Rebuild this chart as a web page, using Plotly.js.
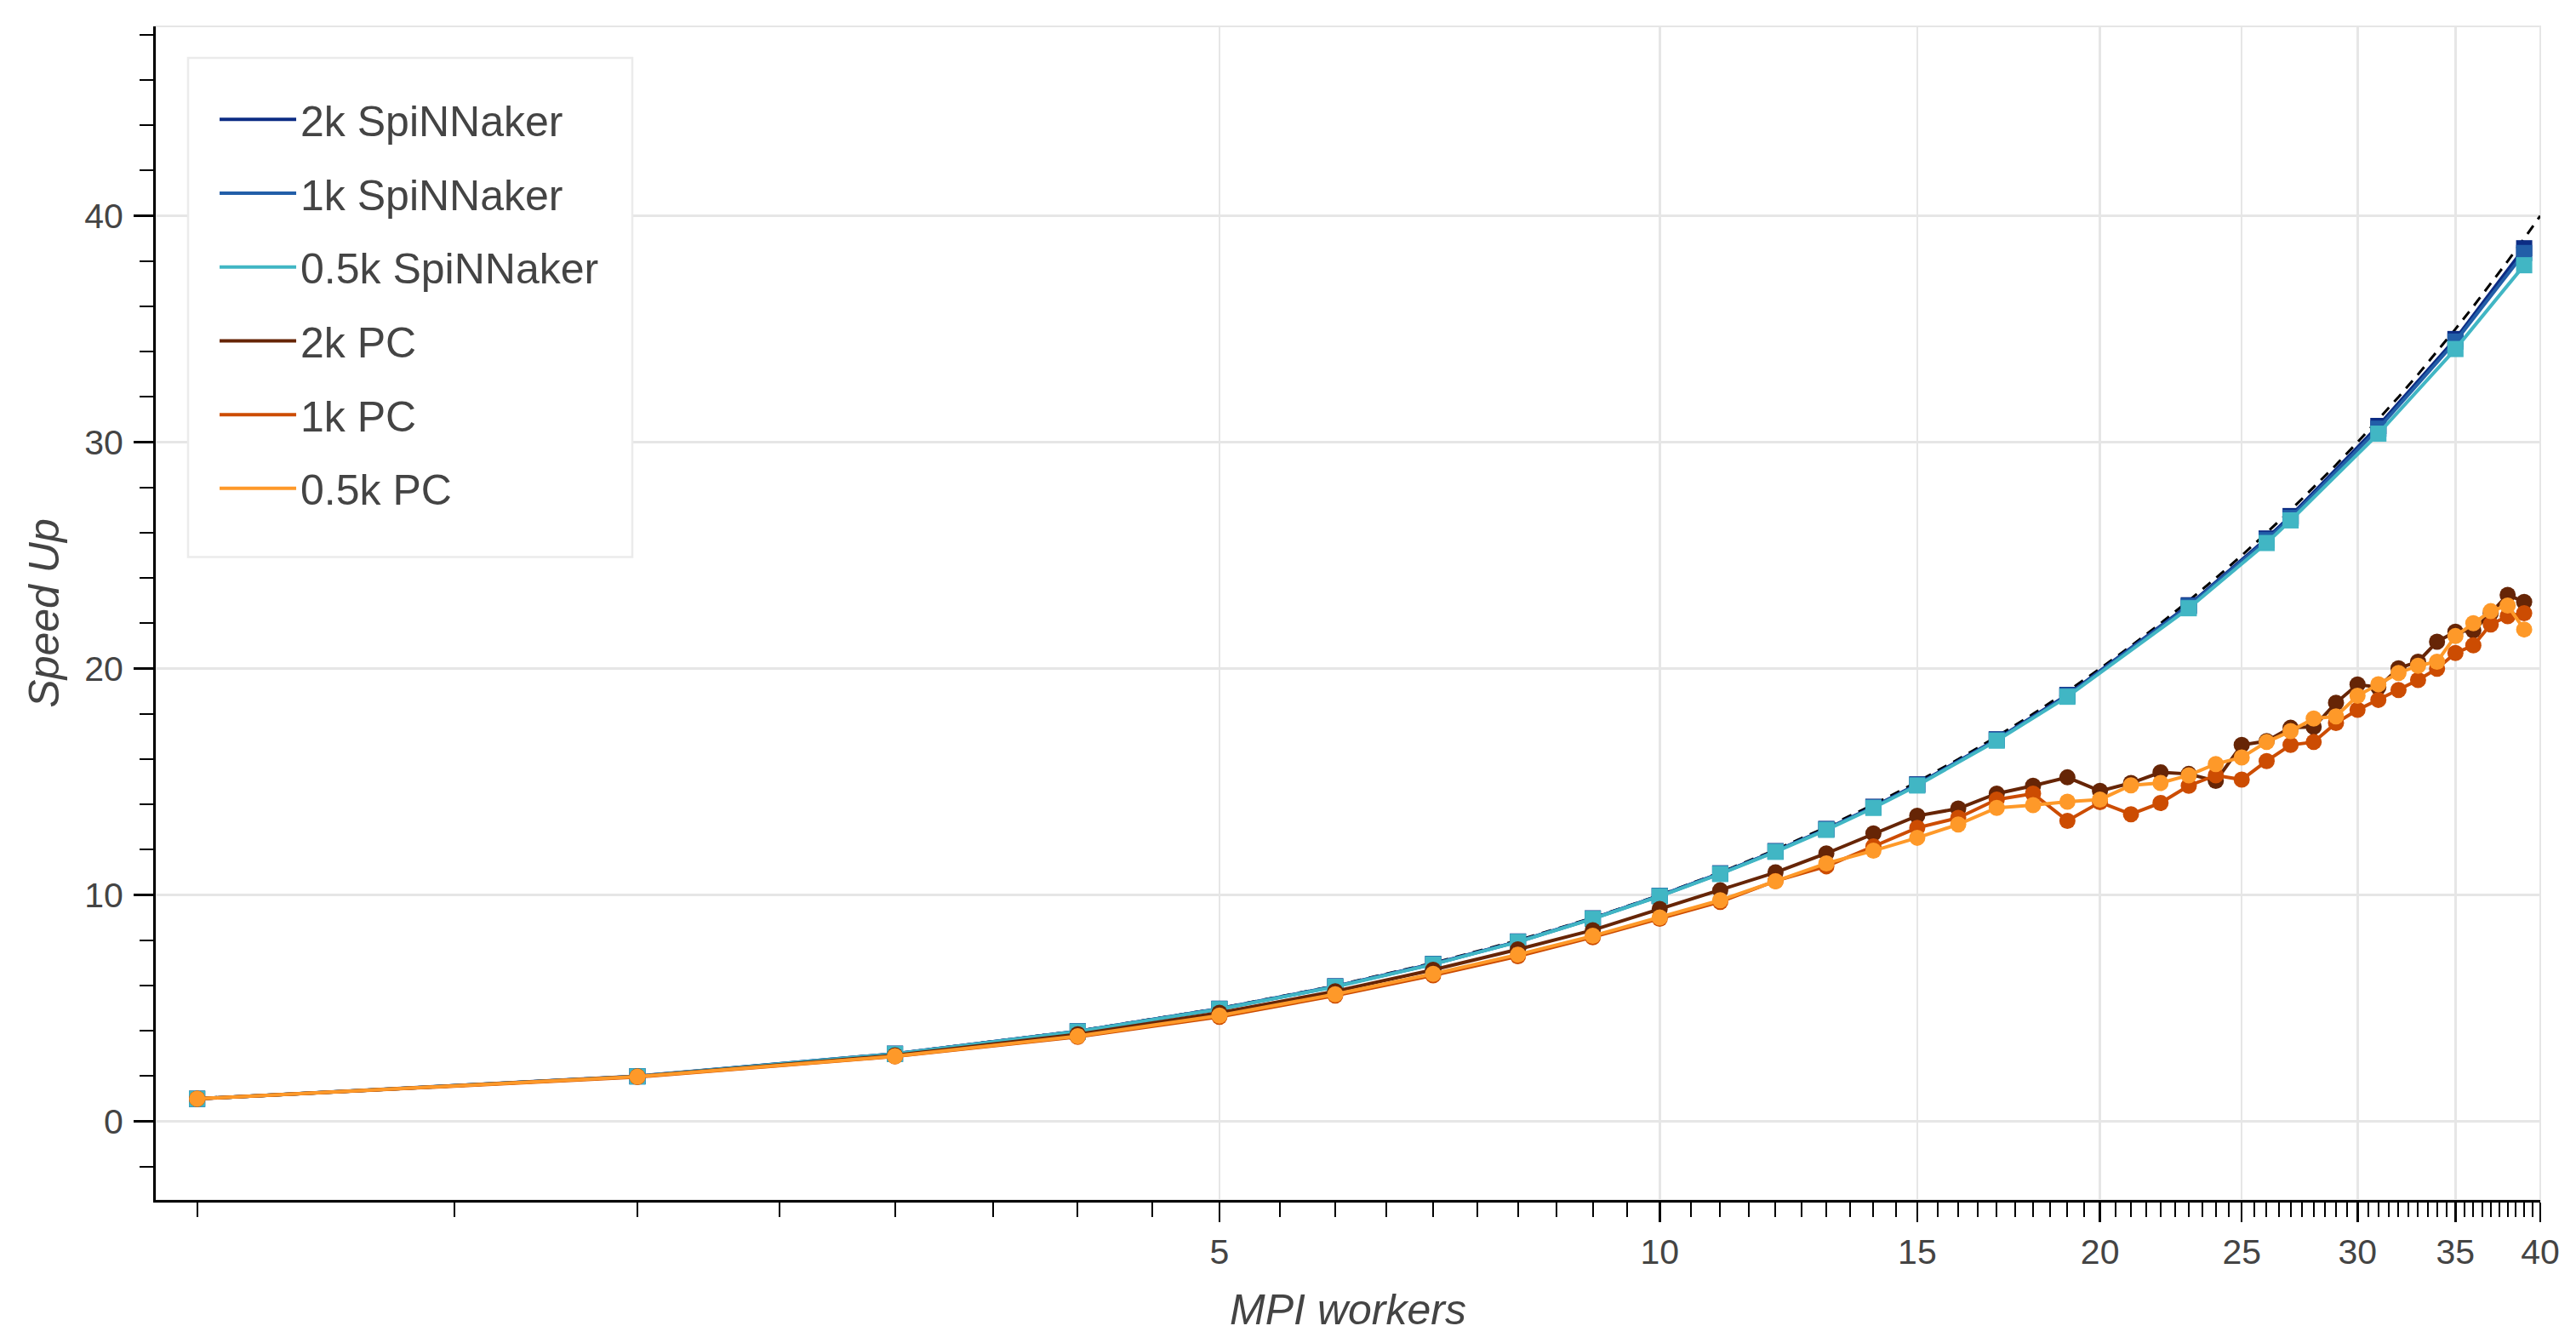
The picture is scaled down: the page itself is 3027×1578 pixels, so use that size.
<!DOCTYPE html>
<html>
<head>
<meta charset="utf-8">
<script src="https://cdn.plot.ly/plotly-3.0.1.min.js"></script>
<style>
html, body { margin: 0; padding: 0; background: #ffffff; }
#chart { width: 3027px; height: 1578px; }
</style>
</head>
<body>
<div id="chart"></div>
<script>
// ---------------- data ----------------
const seriesNames = ['2k SpiNNaker', '1k SpiNNaker', '0.5k SpiNNaker', '2k PC', '1k PC', '0.5k PC'];

const spinWorkers = [1, 2, 3, 4, 5, 6, 7, 8, 9, 10, 11, 12, 13, 14, 15, 17, 19, 23, 26, 27, 31, 35, 39];
const spin2k  = [1.0, 2.0, 2.99, 3.98, 4.98, 5.97, 6.96, 7.95, 8.97, 9.97, 10.96, 11.94, 12.92, 13.90, 14.89, 16.88, 18.84, 22.80, 25.75, 26.74, 30.72, 34.56, 38.57];
const spin1k  = [1.0, 1.99, 2.99, 3.98, 4.97, 5.96, 6.95, 7.94, 8.96, 9.96, 10.95, 11.93, 12.91, 13.88, 14.87, 16.86, 18.81, 22.76, 25.68, 26.66, 30.60, 34.45, 38.36];
const spin05k = [1.0, 1.99, 2.98, 3.97, 4.96, 5.95, 6.94, 7.93, 8.95, 9.95, 10.93, 11.91, 12.88, 13.85, 14.84, 16.82, 18.76, 22.67, 25.55, 26.55, 30.38, 34.12, 37.82];

const pcWorkers = [1, 2, 3, 4, 5, 6, 7, 8, 9, 10, 11, 12, 13, 14, 15, 16, 17, 18, 19, 20,
                   21, 22, 23, 24, 25, 26, 27, 28, 29, 30, 31, 32, 33, 34, 35, 36, 37, 38, 39];
const pc2k  = [1.0, 1.99, 2.92, 3.85, 4.80, 5.75, 6.70, 7.60, 8.45, 9.39, 10.21, 11.00, 11.84, 12.72, 13.50, 13.82, 14.48, 14.83, 15.20, 14.60,
               14.95, 15.42, 15.35, 15.04, 16.63, 16.80, 17.39, 17.43, 18.49, 19.30, 19.18, 20.02, 20.31, 21.19, 21.63, 21.69, 22.45, 23.26, 22.95];
const pc1k  = [1.0, 1.96, 2.87, 3.74, 4.62, 5.56, 6.45, 7.30, 8.14, 8.95, 9.70, 10.62, 11.27, 12.15, 12.97, 13.41, 14.22, 14.48, 13.28, 14.10,
               13.57, 14.07, 14.83, 15.29, 15.10, 15.92, 16.63, 16.76, 17.60, 18.18, 18.62, 19.06, 19.50, 20.00, 20.69, 21.03, 21.95, 22.32, 22.45];
const pc05k = [1.0, 1.98, 2.88, 3.77, 4.68, 5.62, 6.52, 7.37, 8.20, 9.01, 9.77, 10.61, 11.40, 11.96, 12.53, 13.12, 13.85, 13.97, 14.12, 14.22,
               14.85, 14.95, 15.29, 15.79, 16.08, 16.76, 17.24, 17.80, 17.89, 18.80, 19.31, 19.81, 20.13, 20.31, 21.44, 22.01, 22.54, 22.79, 21.73];

// ideal (linear) speed-up reference
const idealWorkers = [1, 2, 3, 4, 5, 6, 7, 8, 9, 10, 11, 12, 13, 14, 15, 16, 17, 18, 19, 20,
                      21, 22, 23, 24, 25, 26, 27, 28, 29, 30, 31, 32, 33, 34, 35, 36, 37, 38, 39, 40];
const idealSpeedup = [1, 2, 3, 4, 5, 6, 7, 8, 9, 10, 11, 12, 13, 14, 15, 16, 17, 18, 19, 20,
                      21, 22, 23, 24, 25, 26, 27, 28, 29, 30, 31, 32, 33, 34, 35, 36, 37, 38, 39, 40];

const xTickVals = [5, 10, 15, 20, 25, 30, 35, 40];
const xTickText = ['5', '10', '15', '20', '25', '30', '35', '40'];
const yTickVals = [0, 10, 20, 30, 40];
const yTickText = ['0', '10', '20', '30', '40'];

// ---------------- styling ----------------
const colors = ['#0c2c84', '#225ea8', '#41b6c4', '#662506', '#cc4c02', '#fe9929'];
const FONT = '"Liberation Sans", Helvetica, Arial, sans-serif';
const TXT = '#444444';
const GRID = '#e6e6e6';

const minorX = [];
for (let v = 1; v <= 40.001; v += 0.5) minorX.push(v);

function series(x, y, i, symbol, size) {
  return {
    type: 'scatter', mode: 'lines+markers', x: x, y: y, name: seriesNames[i],
    showlegend: false, hoverinfo: 'skip',
    line: { color: colors[i], width: 4 },
    marker: { color: colors[i], symbol: symbol, size: size, line: { width: 0 } }
  };
}

const traces = [
  { type: 'scatter', mode: 'lines', x: idealWorkers, y: idealSpeedup, showlegend: false, hoverinfo: 'skip',
    line: { color: '#000000', width: 3, dash: '12px,9px' } },
  series(spinWorkers, spin2k, 0, 'square', 19),
  series(spinWorkers, spin1k, 1, 'square', 19),
  series(spinWorkers, spin05k, 2, 'square', 19),
  series(pcWorkers, pc2k, 3, 'circle', 19),
  series(pcWorkers, pc1k, 4, 'circle', 19),
  series(pcWorkers, pc05k, 5, 'circle', 19)
];
// legend entries (lines only)
seriesNames.forEach(function (n, i) {
  traces.push({ type: 'scatter', mode: 'lines', x: [null], y: [null], name: n, legendgroup: 'g' + i,
                showlegend: true, hoverinfo: 'skip', line: { color: colors[i], width: 4 } });
});

const layout = {
  width: 3027, height: 1578,
  margin: { l: 183, r: 42, t: 31, b: 168, pad: 0 },
  paper_bgcolor: '#ffffff', plot_bgcolor: '#ffffff',
  font: { family: FONT, color: TXT },
  showlegend: true,
  legend: {
    x: 0.025, xanchor: 'left', y: 0.949, yanchor: 'top',
    bgcolor: 'rgba(0,0,0,0)', borderwidth: 0,
    font: { family: FONT, size: 50, color: TXT },
    traceorder: 'grouped', tracegroupgap: 18.7, itemwidth: 90
  },
  xaxis: {
    type: 'log', range: [-0.0283, Math.log10(40)],
    tickmode: 'array', tickvals: xTickVals, ticktext: xTickText,
    ticks: 'outside', ticklen: 23, tickwidth: 2.5, tickcolor: '#000000',
    tickfont: { family: FONT, size: 41, color: TXT },
    showline: true, linecolor: '#000000', linewidth: 3,
    showgrid: true, gridcolor: GRID, gridwidth: 2.5, zeroline: false,
    minor: { tickmode: 'array', tickvals: minorX, ticks: 'outside', ticklen: 17, tickwidth: 2, tickcolor: '#000000', showgrid: false },
    title: { text: 'MPI workers', font: { family: FONT, size: 50, color: TXT, style: 'italic' }, standoff: 28 }
  },
  yaxis: {
    range: [-3.47, 48.37],
    tickmode: 'array', tickvals: yTickVals, ticktext: yTickText,
    ticks: 'outside', ticklen: 23, tickwidth: 2.5, tickcolor: '#000000',
    tickfont: { family: FONT, size: 41, color: TXT },
    ticklabelstandoff: 4,
    showline: true, linecolor: '#000000', linewidth: 3,
    showgrid: true, gridcolor: GRID, gridwidth: 2.5, zeroline: false,
    minor: { dtick: 2, tick0: 0, ticks: 'outside', ticklen: 16, tickwidth: 2, tickcolor: '#000000', showgrid: false },
    title: { text: 'Speed Up', font: { family: FONT, size: 50, color: TXT, style: 'italic' }, standoff: 14 }
  },
  shapes: [
    { type: 'rect', xref: 'paper', yref: 'paper', x0: 0, x1: 1, y0: 0, y1: 1,
      line: { color: GRID, width: 2 }, fillcolor: 'rgba(0,0,0,0)', layer: 'below' },
    { type: 'rect', xref: 'paper', yref: 'paper', x0: 0.01356, x1: 0.19986, y0: 0.5479, y1: 0.97315,
      line: { color: '#ebebeb', width: 2.5 }, fillcolor: '#ffffff', layer: 'above' }
  ],
  hovermode: false
};

Plotly.newPlot('chart', traces, layout, { displayModeBar: false, staticPlot: true });
</script>
</body>
</html>
